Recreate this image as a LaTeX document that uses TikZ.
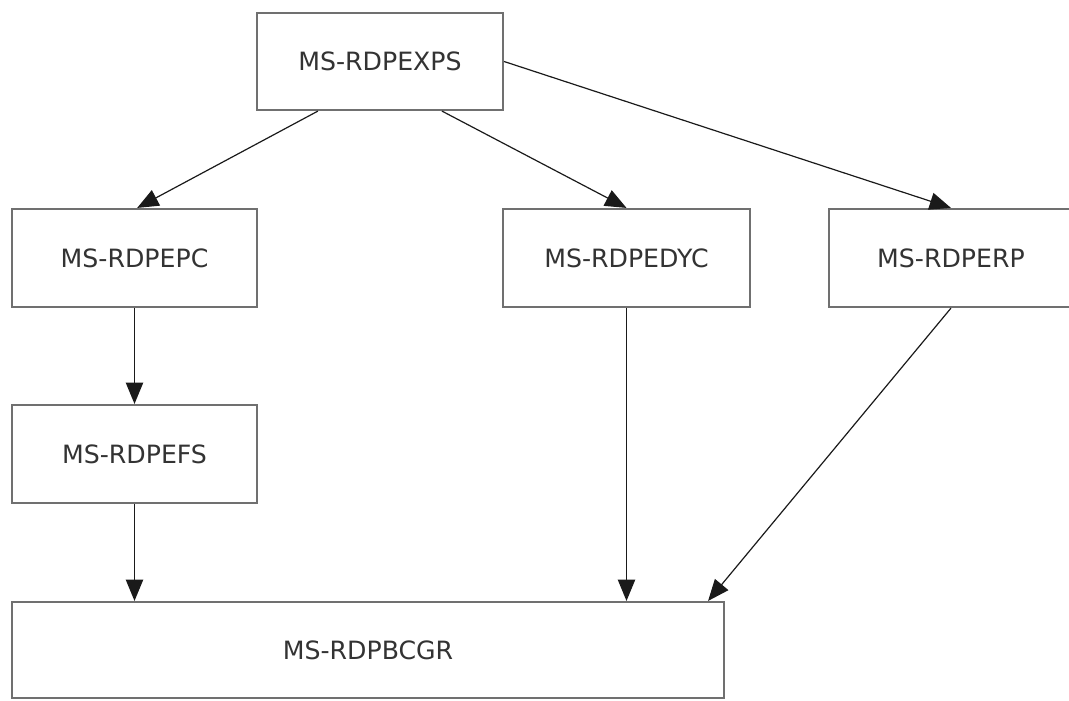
\documentclass[tikz,border=0pt]{standalone}
\usepackage{fontspec}
\setmainfont{DejaVu Sans}
\usetikzlibrary{arrows.meta}
\definecolor{boxline}{HTML}{707070}
\definecolor{txt}{HTML}{333333}
\definecolor{arr}{HTML}{1A1A1A}
\tikzset{
  pbox/.style={draw=boxline, line width=1.6pt, fill=white, inner sep=0pt,
    font=\fontsize{18.9}{22}\selectfont, text=txt},
  conn/.style={draw=arr, line width=0.9pt, -{Triangle[length=16pt,width=13pt]}}
}
\begin{document}
\begin{tikzpicture}[x=0.75pt,y=-0.75pt]
\useasboundingbox (0,0) rectangle (1069,700);
\node[pbox, minimum width=184.5pt, minimum height=72.75pt] (exps) at (380,61.5) {MS-RDPEXPS};
\node[pbox, minimum width=183.75pt, minimum height=73.5pt] (epc) at (134.5,258) {MS-RDPEPC};
\node[pbox, minimum width=185.25pt, minimum height=73.5pt] (edyc) at (626.5,258) {MS-RDPEDYC};
\node[pbox, minimum width=183pt, minimum height=73.5pt] (erp) at (951,258) {MS-RDPERP};
\node[pbox, minimum width=183.75pt, minimum height=73.5pt] (efs) at (134.5,454) {MS-RDPEFS};
\node[pbox, minimum width=534pt, minimum height=72pt] (bcgr) at (368,650) {MS-RDPBCGR};
\draw[conn] ([xshift=46.5pt]exps.south west) -- ([xshift=2pt]epc.north);
\draw[conn] ([xshift=139.5pt]exps.south west) -- (edyc.north);
\draw[conn] (exps.east) -- (erp.north);
\draw[conn] (epc.south) -- (efs.north);
\draw[conn] (efs.south) -- (efs.south |- bcgr.north);
\draw[conn] (edyc.south) -- (edyc.south |- bcgr.north);
\draw[conn] (erp.south) -- ([xshift=-12.75pt]bcgr.north east);
\end{tikzpicture}
\end{document}
